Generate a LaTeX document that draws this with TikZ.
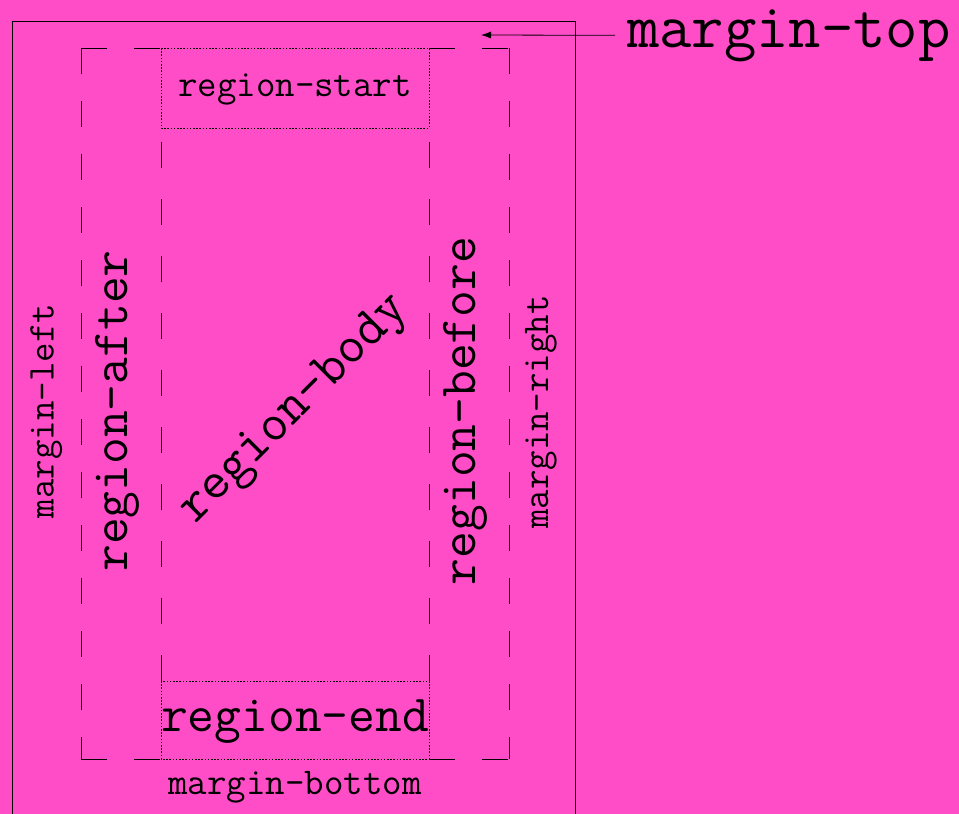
\documentclass[tikz,border=0pt]{standalone}
\usetikzlibrary{arrows.meta}
\definecolor{bgpink}{RGB}{255,76,199}
\begin{document}
\begin{tikzpicture}[x=1pt,y=-1pt,
  dashline/.style={line width=0.7pt,dash pattern=on 26pt off 27pt},
  innerdash/.style={line width=0.7pt,dash pattern=on 26pt off 31pt},
  dotline/.style={line width=0.7pt,dash pattern=on 1.6pt off 1.6pt},
  bigtxt/.style={inner sep=0pt,font=\fontsize{52}{52}\selectfont\ttfamily},
  midtxt/.style={inner sep=0pt,font=\fontsize{37.8}{37.8}\selectfont\ttfamily}]
\useasboundingbox (0,0) rectangle (959,814);
\fill[bgpink] (0,0) rectangle (959,814);
\clip (0,0) rectangle (959,814);
% page (outer)
\draw[line width=0.8pt] (12,21) rectangle (575,840);
% outer dashed frame, edge by edge from the corners
\draw[dashline] (81,48) -- (161,48);
\draw[dashline] (81,759) -- (161,759);
\draw[dashline] (429,48) -- (509,48);
\draw[dashline] (429,759) -- (509,759);
\draw[dashline] (81,48) -- (81,759);
\draw[dashline] (509,48) -- (509,759);
% body sides
\draw[innerdash] (161,681) -- (161,128);
\draw[innerdash] (429,681) -- (429,128);
% start / end boxes
\draw[dotline] (161,48) rectangle (429,128);
\draw[dotline] (161,681) rectangle (429,759);
% labels
\node[midtxt,anchor=base] (rs) at (295,96) {region-start};
\node[bigtxt,anchor=base] (re) at (295,731) {region-end};
\node[midtxt,anchor=base] (mb) at (295,794) {margin-bottom};
\node[bigtxt,rotate=90,anchor=mid] (ra) at (125.5,411) {region-after};
\node[bigtxt,rotate=90,anchor=mid] (rb) at (473,411) {region-before};
\node[midtxt,rotate=90,anchor=mid] (ml) at (51.5,411) {margin-left};
\node[midtxt,rotate=90,anchor=mid] (mr) at (546,412) {margin-right};
\node[inner sep=0pt,font=\fontsize{53.5}{53.5}\selectfont\ttfamily,rotate=45,anchor=center] (rbody) at (295,410) {region-body};
\node[inner ysep=0pt,inner xsep=12pt,anchor=base west,
  font=\fontsize{62.8}{62.8}\selectfont\ttfamily] (mt) at (615,47) {margin-top};
\coordinate (mtarrow) at (481,35);
\draw[line width=0.8pt,-{Latex[length=10pt,width=7pt]}] (mt.west) -- (mtarrow);
\end{tikzpicture}
\end{document}
